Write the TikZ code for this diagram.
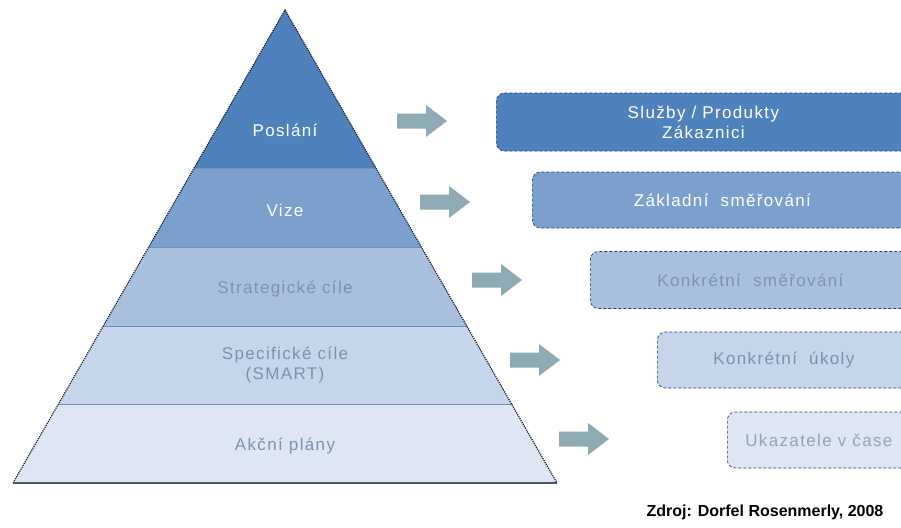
\documentclass[tikz,border=0pt]{standalone}
\usepackage{fontspec}
\setmainfont{Liberation Sans}
\newfontfamily\spacedfont[LetterSpace=8]{Liberation Sans}
\usetikzlibrary{calc}
\definecolor{lay1}{HTML}{4F81BD}
\definecolor{lay2}{HTML}{7BA0CD}
\definecolor{lay3}{HTML}{A8BFDD}
\definecolor{lay4}{HTML}{C5D5EA}
\definecolor{lay5}{HTML}{DDE6F2}
\definecolor{arrowc}{HTML}{8EAAB4}
\definecolor{darktxt}{HTML}{7D92B0}
\definecolor{lighttxt}{HTML}{93A3B9}
\definecolor{sepc}{HTML}{6F8FBF}
\definecolor{edgec}{HTML}{141C30}
\definecolor{boxedge}{HTML}{2A3A78}
\tikzset{
  x=1pt, y=-1pt,
  laytext/.style={font=\spacedfont\fontsize{17}{20}\selectfont, align=center, inner sep=0pt},
  boxnode/.style={rounded corners=8pt, draw=boxedge, densely dashed, line width=0.7pt,
     font=\spacedfont\fontsize{17}{20}\selectfont, align=center, anchor=west, inner sep=0pt},
  barrow/.pic={\fill[arrowc] (0,-7.5) -- (29,-7.5) -- (29,-16) -- (50,0) -- (29,16) -- (29,7.5) -- (0,7.5) -- cycle;}
}
\begin{document}
\begin{tikzpicture}
\useasboundingbox (0,0) rectangle (901,527);
\clip (0,0) rectangle (901,527);
\fill[white] (0,0) rectangle (901,527);
% pyramid
\coordinate (apex) at (285,10);
\coordinate (bl) at (13,483);
\coordinate (br) at (557,483);
\begin{scope}
\clip (apex) -- (bl) -- (br) -- cycle;
\fill[lay1] (0,0) rectangle (600,168);
\fill[lay2] (0,168) rectangle (600,247);
\fill[lay3] (0,247) rectangle (600,326);
\fill[lay4] (0,326) rectangle (600,404);
\fill[lay5] (0,404) rectangle (600,483);
\draw[sepc, line width=0.8pt] (0,168) -- (600,168) (0,247) -- (600,247) (0,326) -- (600,326) (0,404) -- (600,404);
\end{scope}
\draw[edgec, line width=1.2pt, densely dotted] (bl) -- (apex) -- (br);
\draw[edgec!75, line width=1.1pt] (bl) -- (br);
% layer labels
\node[laytext, text=white] (posl) at (285,130) {Poslání};
\node[laytext, text=white] (vize) at (285,210) {Vize};
\node[laytext, text=darktxt] (strat) at (285,289) {Strategické cíle};
\node[laytext, text=darktxt] (spec) at (285,365) {Specifické cíle\\(SMART)};
\node[laytext, text=darktxt] (akce) at (285,446) {Akční plány};
% arrows
\pic at (397,121) {barrow};
\pic at (420,202) {barrow};
\pic at (472,280) {barrow};
\pic at (510,360) {barrow};
\pic at (559,439) {barrow};
% boxes
\node[boxnode, fill=lay1, text=white, minimum width=414pt, minimum height=58pt] (b1) at (496,122) {Služby / Produkty\\Zákaznici};
\node[boxnode, fill=lay2, text=white, minimum width=380pt, minimum height=56pt] (b2) at (532,200) {Základní\ \ směřování};
\node[boxnode, fill=lay3, text=darktxt, minimum width=320pt, minimum height=57pt] (b3) at (590,280) {Konkrétní\ \ směřování};
\node[boxnode, fill=lay4, text=darktxt, minimum width=253pt, minimum height=56pt] (b4) at (657,360) {Konkrétní\ \ úkoly};
\node[boxnode, fill=lay5, text=lighttxt, minimum width=183pt, minimum height=56pt] (b5) at (727,440) {Ukazatele v čase};
% source
\node[font=\bfseries\fontsize{16}{18}\selectfont, inner sep=0pt] (src) at (765,512) {Zdroj: Dorfel Rosenmerly, 2008};
\end{tikzpicture}
\end{document}
